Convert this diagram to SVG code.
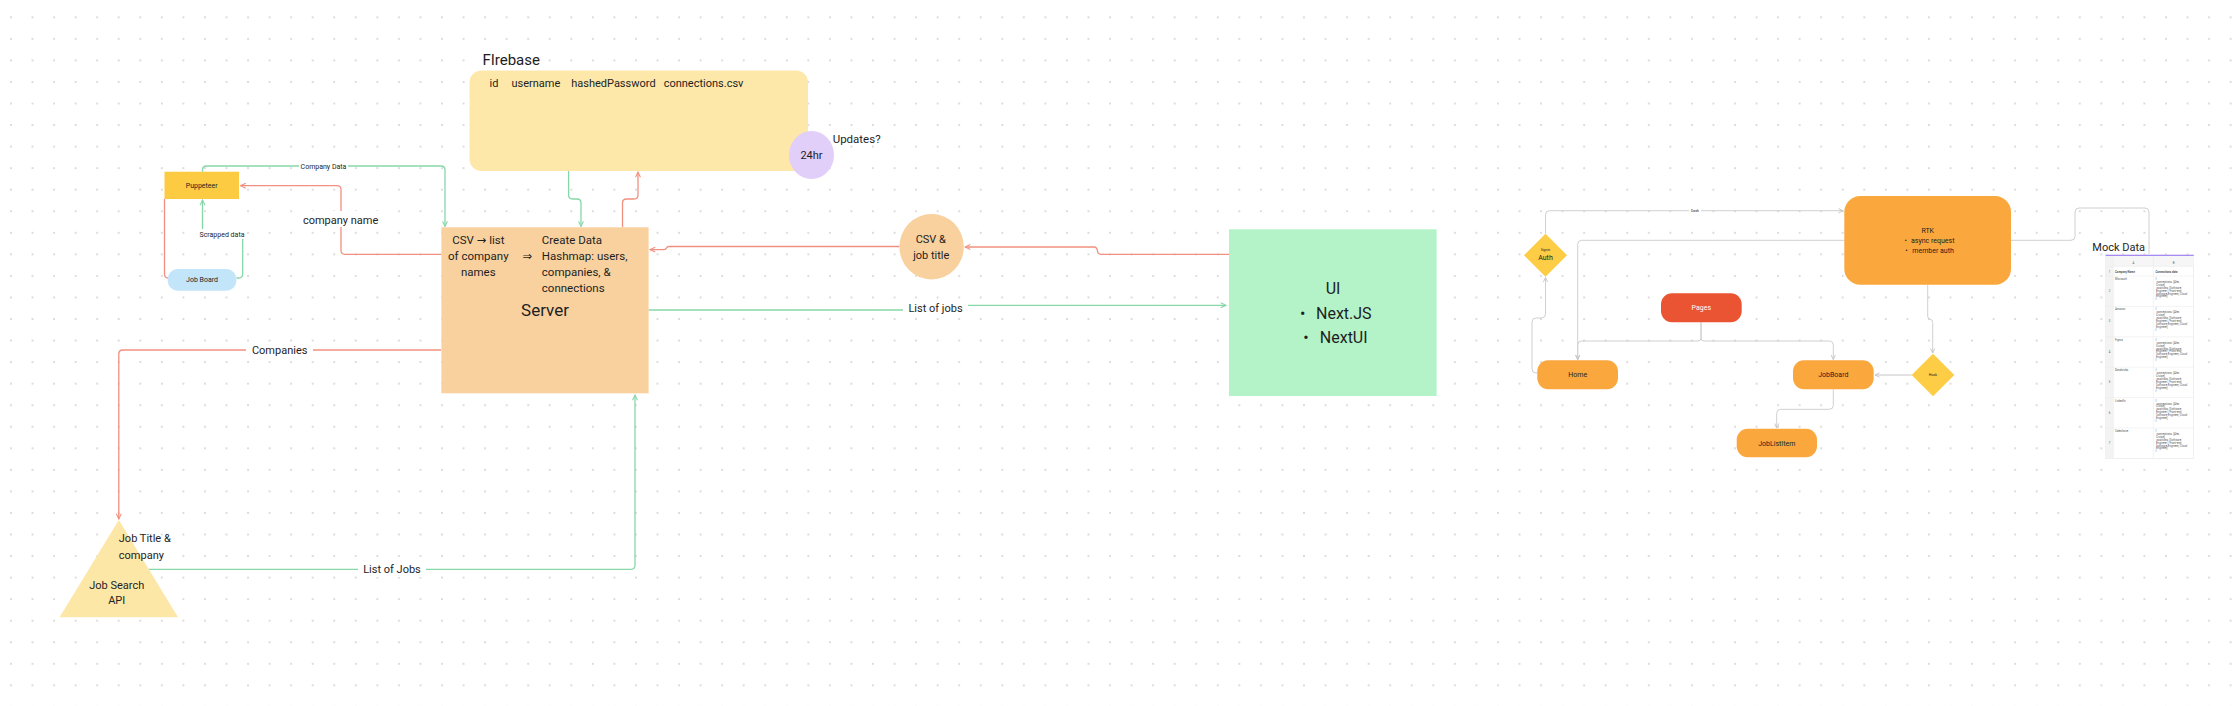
<svg xmlns="http://www.w3.org/2000/svg" width="2238" height="706" viewBox="0 0 2238 706">
<style>
text{font-family:Roboto,"DejaVu Sans","Liberation Sans",sans-serif;fill:#1e1e1e}
.c{text-anchor:middle}
.f7{font-size:7px}
.f11{font-size:11px}
.g{fill:none;stroke:#86d7a8;stroke-width:1.3}
.r{fill:none;stroke:#f2907f;stroke-width:1.3}
.k{fill:none;stroke:#d0d0d0;stroke-width:1}
.lb{fill:#fff}
.tb{font-size:2.8px;fill:#555}
.tl{stroke:#e8e8e8;stroke-width:0.5}
</style>
<defs>
<pattern id="dots" x="0.225" y="6.525" width="21.55" height="21.55" patternUnits="userSpaceOnUse">
<circle cx="10.775" cy="10.775" r="0.9" fill="#cdcdcd"/>
</pattern>
<marker id="ag" viewBox="0 0 8 8" refX="7" refY="4" markerWidth="7" markerHeight="7" markerUnits="userSpaceOnUse" orient="auto"><path d="M1,1.2 L7,4 L1,6.8" fill="none" stroke="#86d7a8" stroke-width="1.2"/></marker>
<marker id="ar" viewBox="0 0 8 8" refX="7" refY="4" markerWidth="7" markerHeight="7" markerUnits="userSpaceOnUse" orient="auto"><path d="M1,1.2 L7,4 L1,6.8" fill="none" stroke="#f2907f" stroke-width="1.2"/></marker>
<marker id="ak" viewBox="0 0 8 8" refX="7" refY="4" markerWidth="6" markerHeight="6" markerUnits="userSpaceOnUse" orient="auto"><path d="M1,1.2 L7,4 L1,6.8" fill="none" stroke="#c4c4c4" stroke-width="1.2"/></marker>
</defs>
<rect width="2238" height="706" fill="#fff"/>
<rect width="2238" height="706" fill="url(#dots)"/>

<g id="connectors">
<!-- Company Data -->
<path class="g" d="M202.5,171.7 V170 Q202.5,166 206.5,166 H441 Q445,166 445,170 V226.5" marker-end="url(#ag)"/>
<rect class="lb" x="299" y="161" width="49" height="10"/>
<text class="c f7" x="323.5" y="168.5">Company Data</text>
<!-- company name -->
<path class="r" d="M441,254.3 H345 Q341,254.3 341,250.3 V189.7 Q341,185.7 337,185.7 H240.5" marker-end="url(#ar)"/>
<rect class="lb" x="301" y="211" width="80" height="16"/>
<text class="c f11" x="340.6" y="223.5">company name</text>
<!-- Scrapped data -->
<path class="g" d="M236.4,278 H238.7 Q242.7,278 242.7,274 V238 Q242.7,234 238.7,234 H206.5 Q202.5,234 202.5,230 V200" marker-end="url(#ag)"/>
<rect class="lb" x="198" y="229" width="48" height="10"/>
<text class="c f7" x="222" y="236.5">Scrapped data</text>
<!-- Puppeteer to Job Board -->
<path class="r" d="M164.5,199 V274 Q164.5,278 168,278"/>
<!-- Firebase to Server -->
<path class="g" d="M568.6,171 V195 Q568.6,199 572.6,199 H577 Q581,199 581,203 V226.5" marker-end="url(#ag)"/>
<!-- Server to Firebase -->
<path class="r" d="M622.5,227.3 V203 Q622.5,199 626.5,199 H634 Q638,199 638,195 V172" marker-end="url(#ar)"/>
<!-- UI to CSV circle -->
<path class="r" d="M1229,254.3 H1101 Q1098,254.3 1097.5,251 Q1097,247 1094,247 H965" marker-end="url(#ar)"/>
<!-- CSV circle to Server -->
<path class="r" d="M899.4,246.5 H669 Q667,246.5 666.5,248 Q666,249.6 664,249.6 H650" marker-end="url(#ar)"/>
<!-- List of jobs -->
<path class="g" d="M648.6,310 H935 Q937,310 937,307.6 Q937,305.3 939,305.3 H1226" marker-end="url(#ag)"/>
<rect class="lb" x="903" y="300" width="65" height="16"/>
<text class="c f11" x="935.5" y="312">List of jobs</text>
<!-- Companies -->
<path class="r" d="M441,350 H122.8 Q118.8,350 118.8,354 V519" marker-end="url(#ar)"/>
<rect class="lb" x="246" y="342" width="67" height="16"/>
<text class="c f11" x="279.7" y="354">Companies</text>
<!-- List of Jobs -->
<path class="g" d="M148.8,569.3 H631 Q635,569.3 635,565.3 V395" marker-end="url(#ag)"/>
<rect class="lb" x="358" y="561" width="68" height="16"/>
<text class="c f11" x="392" y="573">List of Jobs</text>

<!-- Right cluster -->
<path class="k" d="M1545.5,233.7 V214.7 Q1545.5,210.7 1549.5,210.7 H1843" marker-end="url(#ak)"/>
<rect class="lb" x="1689" y="208" width="12" height="5"/>
<text class="c" style="font-size:3.5px" x="1695" y="212">Dash</text>
<path class="k" d="M1844.3,240.3 H1581.7 Q1577.7,240.3 1577.7,244.3 V359.5" marker-end="url(#ak)"/>
<path class="k" d="M1537.3,373 H1536 Q1532,373 1532,369 V322 Q1532,318 1536,318 H1541.5 Q1545.5,318 1545.5,314 V277.5" marker-end="url(#ak)"/>
<path class="k" d="M1701,322.3 V338 Q1701,341 1698,341 H1581.7 Q1577.7,341 1577.7,345 V359.5" marker-end="url(#ak)"/>
<path class="k" d="M1701,322.3 V338 Q1701,341 1704,341 H1829.3 Q1833.3,341 1833.3,345 V359.5" marker-end="url(#ak)"/>
<path class="k" d="M1833.3,389.3 V405.3 Q1833.3,409.3 1829.3,409.3 H1780.7 Q1776.7,409.3 1776.7,413.3 V428" marker-end="url(#ak)"/>
<path class="k" d="M1927.7,284.7 V316 Q1927.7,319.3 1930.2,319.3 Q1932.7,319.3 1932.7,322.6 V353" marker-end="url(#ak)"/>
<path fill="none" stroke="#e2e2e2" stroke-width="2" d="M1911.7,375 H1875" marker-end="url(#ak)"/>
<path class="k" d="M2011,240.3 H2071 Q2075,240.3 2075,236.3 V212 Q2075,208 2079,208 H2145 Q2149,208 2149,212 V254"/>
</g>

<g id="firebase">
<rect x="469.5" y="70.5" width="338.5" height="100.5" rx="12" fill="#fde8a9"/>
<text x="482.4" y="65" style="font-size:15px">FIrebase</text>
<text class="f11" y="87"><tspan x="489.5">id</tspan><tspan x="511.4">username</tspan><tspan x="571.2">hashedPassword</tspan><tspan x="663.7">connections.csv</tspan></text>
</g>

<g id="updates">
<ellipse cx="811.5" cy="155" rx="22.5" ry="24" fill="#e1cff9"/>
<text class="c f11" x="811.5" y="159">24hr</text>
<text x="832.7" y="142.7" style="font-size:11.5px">Updates?</text>
</g>

<g id="puppeteer">
<rect x="164.5" y="171.7" width="74.5" height="27.3" fill="#fccb42"/>
<text class="c f7" x="201.7" y="187.8">Puppeteer</text>
</g>

<g id="job-board">
<rect x="167.7" y="269" width="68.7" height="21.7" rx="10" fill="#c3e5fa"/>
<text class="c f7" x="202" y="282.3">Job Board</text>
</g>

<g id="server">
<rect x="441.4" y="227.3" width="207.2" height="166" fill="#f8d19e"/>
<text class="c" style="font-size:11.5px" x="478.3"><tspan x="478.3" y="244.3">CSV → list</tspan><tspan x="478.3" y="260.3">of company</tspan><tspan x="478.3" y="276.2">names</tspan></text>
<text class="c" style="font-size:11.5px" x="527.3" y="260.3">⇒</text>
<text style="font-size:11.5px"><tspan x="541.8" y="244.3">Create Data</tspan><tspan x="541.8" y="260.3">Hashmap: users,</tspan><tspan x="541.8" y="276.2">companies, &amp;</tspan><tspan x="541.8" y="292">connections</tspan></text>
<text class="c" style="font-size:17px" x="545" y="316">Server</text>
</g>

<g id="csv-job-title">
<ellipse cx="931.6" cy="246.7" rx="32.2" ry="32.7" fill="#f8d19e"/>
<text class="c f11" x="930.8" y="243.3">CSV &amp;</text>
<text class="c f11" x="931.3" y="259">job title</text>
</g>

<g id="ui">
<rect x="1229" y="229.3" width="207.6" height="166.7" fill="#b4f3c8"/>
<text class="c" style="font-size:16px" x="1333" y="294">UI</text>
<text style="font-size:16px"><tspan x="1300" y="318.7">•</tspan><tspan x="1316" y="318.7">Next.JS</tspan></text>
<text style="font-size:16px"><tspan x="1303.3" y="342.7">•</tspan><tspan x="1319.8" y="342.7">NextUI</tspan></text>
</g>

<g id="job-search-api">
<polygon points="118.8,520 178,617.3 59.6,617.3" fill="#fde7a6"/>
<text class="f11" x="118.8" y="542.3">Job Title &amp;</text>
<text class="f11" x="118.8" y="558.7">company</text>
<text class="c f11" x="116.7" y="588.7">Job Search</text>
<text class="c f11" x="116.7" y="604.3">API</text>
</g>

<g id="rtk">
<rect x="1844.3" y="196" width="166.7" height="88.7" rx="16" fill="#faa83e"/>
<text class="c f7" x="1927.7" y="232.7">RTK</text>
<text class="f7"><tspan x="1904.5" y="243">•</tspan><tspan x="1911" y="243">async request</tspan></text>
<text class="f7"><tspan x="1905.2" y="253">•</tspan><tspan x="1912.3" y="253">member auth</tspan></text>
</g>

<g id="auth">
<polygon points="1545.5,233.7 1567,255.2 1545.5,276.7 1524,255.2" fill="#fccd45"/>
<text class="c" style="font-size:3.5px" x="1545.5" y="250.5">Signin</text>
<text class="c f7" x="1545.5" y="260.3">Auth</text>
</g>

<g id="pages">
<rect x="1661" y="293.3" width="80.7" height="29" rx="11" fill="#ea5433"/>
<text class="c f7" x="1701.3" y="310" style="fill:#fff">Pages</text>
</g>

<g id="home">
<rect x="1537.3" y="360.3" width="80.7" height="29" rx="11" fill="#faa83e"/>
<text class="c f7" x="1577.7" y="377.3">Home</text>
</g>

<g id="jobboard">
<rect x="1793" y="360.3" width="80.7" height="29" rx="11" fill="#faa83e"/>
<text class="c f7" x="1833.3" y="377.3">JobBoard</text>
</g>

<g id="joblistitem">
<rect x="1736.7" y="428.7" width="80.3" height="28.6" rx="11" fill="#faa83e"/>
<text class="c f7" x="1776.8" y="445.7">JobListItem</text>
</g>

<g id="hook">
<polygon points="1933,353.7 1954.3,375 1933,396.3 1911.7,375" fill="#fccd45"/>
<text class="c" style="font-size:3.5px" x="1933" y="376.2">Hook</text>
</g>

<g id="mock-data">
<text class="f11" x="2092.3" y="250.7">Mock Data</text>
<rect x="2105.7" y="255" width="88" height="203.3" fill="#fff" stroke="#e4e4e4" stroke-width="0.6"/>
<rect x="2105.7" y="256" width="88" height="10.3" fill="#f6f6f6"/>
<rect x="2105.7" y="256" width="7.6" height="202.3" fill="#f3f3f3"/>
<line x1="2105.7" y1="255.4" x2="2193.7" y2="255.4" stroke="#a58af5" stroke-width="1.4"/>
<g class="tl">
<line x1="2105.7" y1="266.3" x2="2193.7" y2="266.3"/>
<line x1="2105.7" y1="276" x2="2193.7" y2="276"/>
<line x1="2105.7" y1="306.4" x2="2193.7" y2="306.4"/>
<line x1="2105.7" y1="336.8" x2="2193.7" y2="336.8"/>
<line x1="2105.7" y1="367.2" x2="2193.7" y2="367.2"/>
<line x1="2105.7" y1="397.6" x2="2193.7" y2="397.6"/>
<line x1="2105.7" y1="428" x2="2193.7" y2="428"/>
<line x1="2113.3" y1="256" x2="2113.3" y2="458.3"/>
<line x1="2153.3" y1="256" x2="2153.3" y2="458.3"/>
</g>
<text class="tb c" x="2133.3" y="263.5">A</text>
<text class="tb c" x="2173.5" y="263.5">B</text>
<text class="tb c" x="2109.5" y="272.5">1</text>
<text class="tb" x="2115" y="272.5" style="font-weight:bold">Company Name</text>
<text class="tb" x="2155.5" y="272.5" style="font-weight:bold">Connections data</text>
<text class="tb c" x="2109.5" y="292">2</text>
<text class="tb c" x="2109.5" y="322.4">3</text>
<text class="tb c" x="2109.5" y="352.8">4</text>
<text class="tb c" x="2109.5" y="383.2">5</text>
<text class="tb c" x="2109.5" y="413.6">6</text>
<text class="tb c" x="2109.5" y="444">7</text>
<text class="tb" x="2115" y="280">Microsoft</text>
<text class="tb" x="2115" y="310.4">Amazon</text>
<text class="tb" x="2115" y="340.8">Figma</text>
<text class="tb" x="2115" y="371.2">Databricks</text>
<text class="tb" x="2115" y="401.6">LinkedIn</text>
<text class="tb" x="2115" y="432">Salesforce</text>
<text class="tb"><tspan x="2155.5" y="280">{</tspan><tspan x="2156.5" y="282.9">connections: [Alex</tspan><tspan x="2156" y="285.8">Cruise],</tspan><tspan x="2156.5" y="288.7">positions: [Software</tspan><tspan x="2156" y="291.6">Engineer I, Front-end</tspan><tspan x="2156" y="294.5">Software Engineer, Cloud</tspan><tspan x="2156" y="297.4">Engineer]</tspan><tspan x="2155.5" y="300.3">}</tspan></text>
<text class="tb"><tspan x="2155.5" y="310.4">{</tspan><tspan x="2156.5" y="313.3">connections: [Alex</tspan><tspan x="2156" y="316.2">Cruise],</tspan><tspan x="2156.5" y="319.1">positions: [Software</tspan><tspan x="2156" y="322">Engineer I, Front-end</tspan><tspan x="2156" y="324.9">Software Engineer, Cloud</tspan><tspan x="2156" y="327.8">Engineer]</tspan><tspan x="2155.5" y="330.7">}</tspan></text>
<text class="tb"><tspan x="2155.5" y="340.8">{</tspan><tspan x="2156.5" y="343.7">connections: [Alex</tspan><tspan x="2156" y="346.6">Cruise],</tspan><tspan x="2156.5" y="349.5">positions: [Software</tspan><tspan x="2156" y="352.4">Engineer I, Front-end</tspan><tspan x="2156" y="355.3">Software Engineer, Cloud</tspan><tspan x="2156" y="358.2">Engineer]</tspan><tspan x="2155.5" y="361.1">}</tspan></text>
<text class="tb"><tspan x="2155.5" y="371.2">{</tspan><tspan x="2156.5" y="374.1">connections: [Alex</tspan><tspan x="2156" y="377">Cruise],</tspan><tspan x="2156.5" y="379.9">positions: [Software</tspan><tspan x="2156" y="382.8">Engineer I, Front-end</tspan><tspan x="2156" y="385.7">Software Engineer, Cloud</tspan><tspan x="2156" y="388.6">Engineer]</tspan><tspan x="2155.5" y="391.5">}</tspan></text>
<text class="tb"><tspan x="2155.5" y="401.6">{</tspan><tspan x="2156.5" y="404.5">connections: [Alex</tspan><tspan x="2156" y="407.4">Cruise],</tspan><tspan x="2156.5" y="410.3">positions: [Software</tspan><tspan x="2156" y="413.2">Engineer I, Front-end</tspan><tspan x="2156" y="416.1">Software Engineer, Cloud</tspan><tspan x="2156" y="419">Engineer]</tspan><tspan x="2155.5" y="421.9">}</tspan></text>
<text class="tb"><tspan x="2155.5" y="432">{</tspan><tspan x="2156.5" y="434.9">connections: [Alex</tspan><tspan x="2156" y="437.8">Cruise],</tspan><tspan x="2156.5" y="440.7">positions: [Software</tspan><tspan x="2156" y="443.6">Engineer I, Front-end</tspan><tspan x="2156" y="446.5">Software Engineer, Cloud</tspan><tspan x="2156" y="449.4">Engineer]</tspan><tspan x="2155.5" y="452.3">}</tspan></text>
</g>
</svg>
